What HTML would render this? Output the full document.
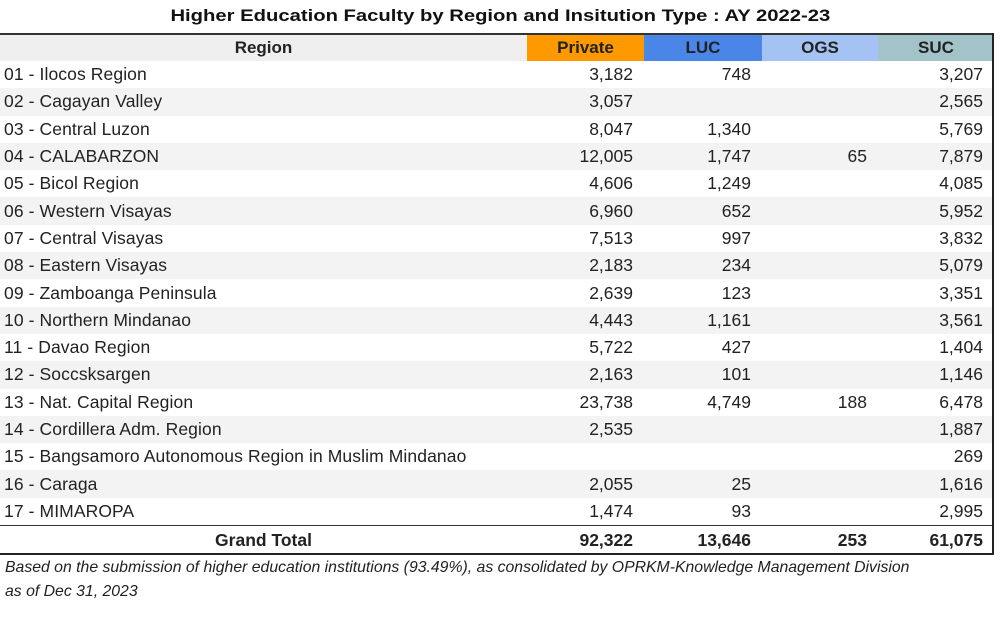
<!DOCTYPE html>
<html><head><style>
body{margin:0;width:1000px;height:621px;background:#fff;font-family:"Liberation Sans",sans-serif;position:relative;overflow:hidden}
.t{position:absolute;top:6px;left:0;width:1000px;text-align:center;font-weight:bold;font-size:17px;color:#111;transform:scaleX(1.19);transform-origin:498px 0}
table{position:absolute;left:0;top:33px;border-collapse:collapse;font-size:17.5px;color:#222;table-layout:fixed;width:994px}
td,th{height:27.3px;padding:0;white-space:nowrap;overflow:hidden}
th{font-weight:bold;text-align:center;height:26px;font-size:17px}
td.n{text-align:right;padding-right:11px}
td.r{padding-left:4px;letter-spacing:0.1px}
tr.g td{background:#f3f3f3}
tr.hd{border-top:2px solid #333}
tr.tot td{border-top:1.5px solid #333;font-weight:bold;height:28px}
.wrap{position:absolute;left:0;top:33px;width:992px;height:520px;border-right:2px solid #222;border-bottom:2px solid #222}
.f{position:absolute;left:5px;font-style:italic;font-size:15.8px;color:#222}
</style></head><body>
<div class="t">Higher Education Faculty by Region and Insitution Type : AY 2022-23</div>
<table>
<colgroup><col style="width:527px"><col style="width:117px"><col style="width:118px"><col style="width:116px"><col style="width:116px"></colgroup>
<tr class="hd"><th style="background:#efefef">Region</th><th style="background:#ff9900">Private</th><th style="background:#4a86e8">LUC</th><th style="background:#a4c2f4">OGS</th><th style="background:#a2c4c9">SUC</th></tr>
<tr><td class="r">01 - Ilocos Region</td><td class="n">3,182</td><td class="n">748</td><td class="n"></td><td class="n">3,207</td></tr>
<tr class="g"><td class="r">02 - Cagayan Valley</td><td class="n">3,057</td><td class="n"></td><td class="n"></td><td class="n">2,565</td></tr>
<tr><td class="r">03 - Central Luzon</td><td class="n">8,047</td><td class="n">1,340</td><td class="n"></td><td class="n">5,769</td></tr>
<tr class="g"><td class="r">04 - CALABARZON</td><td class="n">12,005</td><td class="n">1,747</td><td class="n">65</td><td class="n">7,879</td></tr>
<tr><td class="r">05 - Bicol Region</td><td class="n">4,606</td><td class="n">1,249</td><td class="n"></td><td class="n">4,085</td></tr>
<tr class="g"><td class="r">06 - Western Visayas</td><td class="n">6,960</td><td class="n">652</td><td class="n"></td><td class="n">5,952</td></tr>
<tr><td class="r">07 - Central Visayas</td><td class="n">7,513</td><td class="n">997</td><td class="n"></td><td class="n">3,832</td></tr>
<tr class="g"><td class="r">08 - Eastern Visayas</td><td class="n">2,183</td><td class="n">234</td><td class="n"></td><td class="n">5,079</td></tr>
<tr><td class="r">09 - Zamboanga Peninsula</td><td class="n">2,639</td><td class="n">123</td><td class="n"></td><td class="n">3,351</td></tr>
<tr class="g"><td class="r">10 - Northern Mindanao</td><td class="n">4,443</td><td class="n">1,161</td><td class="n"></td><td class="n">3,561</td></tr>
<tr><td class="r">11 - Davao Region</td><td class="n">5,722</td><td class="n">427</td><td class="n"></td><td class="n">1,404</td></tr>
<tr class="g"><td class="r">12 - Soccsksargen</td><td class="n">2,163</td><td class="n">101</td><td class="n"></td><td class="n">1,146</td></tr>
<tr><td class="r">13 - Nat. Capital Region</td><td class="n">23,738</td><td class="n">4,749</td><td class="n">188</td><td class="n">6,478</td></tr>
<tr class="g"><td class="r">14 - Cordillera Adm. Region</td><td class="n">2,535</td><td class="n"></td><td class="n"></td><td class="n">1,887</td></tr>
<tr><td class="r">15 - Bangsamoro Autonomous Region in Muslim Mindanao</td><td class="n"></td><td class="n"></td><td class="n"></td><td class="n">269</td></tr>
<tr class="g"><td class="r">16 - Caraga</td><td class="n">2,055</td><td class="n">25</td><td class="n"></td><td class="n">1,616</td></tr>
<tr><td class="r">17 - MIMAROPA</td><td class="n">1,474</td><td class="n">93</td><td class="n"></td><td class="n">2,995</td></tr>
<tr class="tot"><td style="text-align:center">Grand Total</td><td class="n">92,322</td><td class="n">13,646</td><td class="n">253</td><td class="n">61,075</td></tr>
</table>
<div class="wrap"></div>
<div class="f" style="top:559px">Based on the submission of higher education institutions (93.49%), as consolidated by OPRKM-Knowledge Management Division</div>
<div class="f" style="top:583px">as of Dec 31, 2023</div>
</body></html>
